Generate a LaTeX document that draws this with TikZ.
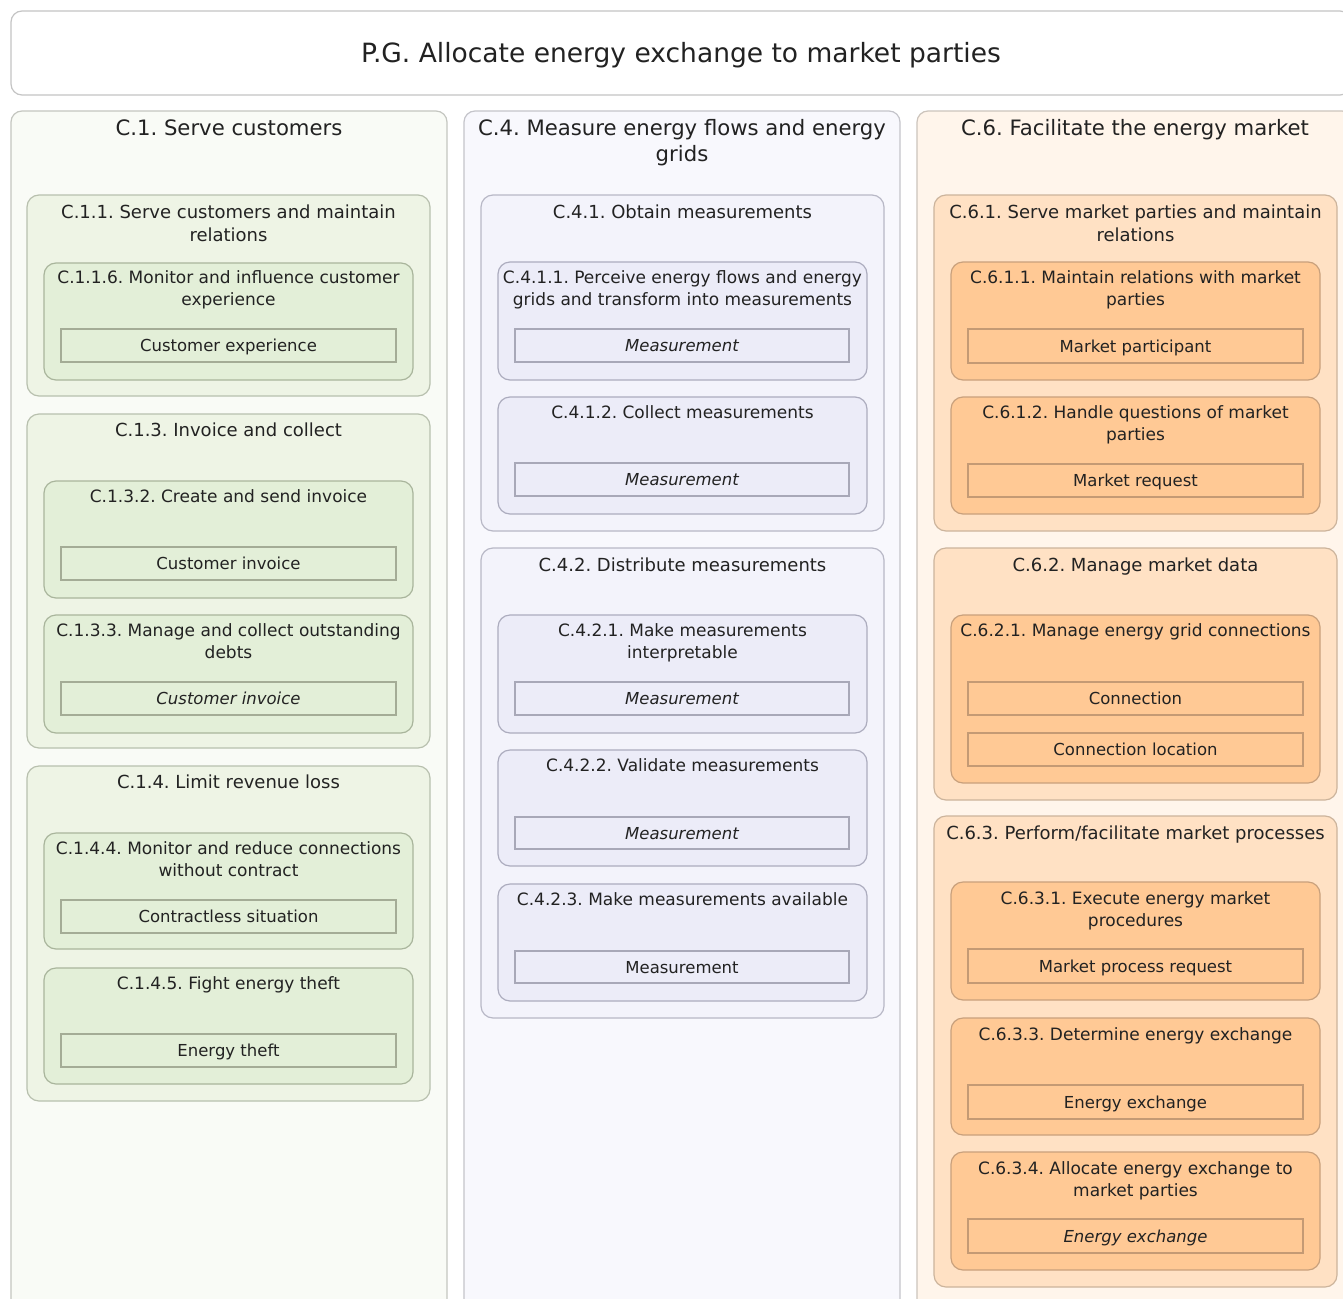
\documentclass[tikz,border=0pt]{standalone}
\usepackage{fontspec}
\setmainfont{DejaVu Sans}
\frenchspacing
\definecolor{txt}{HTML}{222222}
\definecolor{mainborder}{HTML}{C4C4C4}
\definecolor{gA}{HTML}{F9FBF6}\definecolor{gB}{HTML}{EEF4E5}\definecolor{gC}{HTML}{E3EFD8}
\definecolor{gAb}{HTML}{C4C6C0}\definecolor{gBb}{HTML}{B8C0AE}\definecolor{gCb}{HTML}{A9B59C}\definecolor{gRb}{HTML}{A4AC96}
\definecolor{pA}{HTML}{F8F8FD}\definecolor{pB}{HTML}{F3F3FB}\definecolor{pC}{HTML}{ECECF8}
\definecolor{pAb}{HTML}{C4C4CA}\definecolor{pBb}{HTML}{B8B8C6}\definecolor{pCb}{HTML}{ACACBE}\definecolor{pRb}{HTML}{A8A8B8}
\definecolor{oA}{HTML}{FFF5EB}\definecolor{oB}{HTML}{FFE1C4}\definecolor{oC}{HTML}{FFC995}
\definecolor{oAb}{HTML}{CCC4BC}\definecolor{oBb}{HTML}{CCB49C}\definecolor{oCb}{HTML}{C8A07C}\definecolor{oRb}{HTML}{C49A74}
\tikzset{
  every node/.style={inner sep=0pt, outer sep=0pt, text=txt},
  mainbox/.style={draw=mainborder, fill=white, rounded corners=11pt, line width=1.2pt},
  colbox/.style={rounded corners=11pt, line width=1.2pt},
  lvbox/.style={rounded corners=12pt, line width=1.2pt},
  itembox/.style={line width=1.2pt, font=\fontsize{16.5}{22}\selectfont, text height=14pt, text depth=1.5pt},
  tmain/.style={font=\fontsize{26.5}{32}\selectfont},
  tcol/.style={font=\fontsize{21.2}{26}\selectfont},
  tlv/.style={font=\fontsize{18}{23}\selectfont},
  tsub/.style={font=\fontsize{17}{22}\selectfont},
  gcol/.style={colbox, draw=gAb, fill=gA}, glv/.style={lvbox, draw=gBb, fill=gB}, gsub/.style={lvbox, draw=gCb, fill=gC}, gitem/.style={itembox, draw=gRb, fill=gC},
  pcol/.style={colbox, draw=pAb, fill=pA}, plv/.style={lvbox, draw=pBb, fill=pB}, psub/.style={lvbox, draw=pCb, fill=pC}, pitem/.style={itembox, draw=pRb, fill=pC},
  ocol/.style={colbox, draw=oAb, fill=oA}, olv/.style={lvbox, draw=oBb, fill=oB}, osub/.style={lvbox, draw=oCb, fill=oC}, oitem/.style={itembox, draw=oRb, fill=oC},
}
\newcommand\mkbox[6]{\node[#6, minimum width={#4-#2}, minimum height={#5-#3}] (#1) at ({(#2+#4)/2},{(#3+#5)/2}) {};}
\newcommand\mkrect[7]{\node[#6, minimum width={#4-#2}, minimum height={#5-#3}] (#1) at ({(#2+#4)/2},{(#3+#5)/2}) {#7};}
\newcommand\mktitle[5]{\node[#4, anchor=north, align=center] (#1) at (#2,#3) {#5};}
\begin{document}
\begin{tikzpicture}[x=1pt,y=-1pt]
\useasboundingbox (0,0) rectangle (1343,1298);
\clip (0,0) rectangle (1343,1298);
\fill[white] (0,0) rectangle (1343,1298);
% main
\mkbox{pg}{11}{11}{1351}{95}{mainbox}
\mktitle{pgt}{681}{42.4}{tmain}{P.G. Allocate energy exchange to market parties}
% ---------- C.1
\mkbox{c1}{11}{111}{447}{1330}{gcol}
\mktitle{c1t}{229}{119.5}{tcol}{C.1. Serve customers}
\mkbox{c11}{27}{195}{430}{396}{glv}
\mktitle{c11t}{228.5}{204.8}{tlv}{C.1.1. Serve customers and maintain\\relations}
\mkbox{c116}{44}{263}{413}{380}{gsub}
\mktitle{c116t}{228.5}{270.2}{tsub}{C.1.1.6. Monitor and influence customer\\experience}
\mkrect{c116r}{61}{329}{396}{362}{gitem}{Customer experience}
\mkbox{c13}{27}{414}{430}{748}{glv}
\mktitle{c13t}{228.5}{422.8}{tlv}{C.1.3. Invoice and collect}
\mkbox{c132}{44}{481}{413}{598}{gsub}
\mktitle{c132t}{228.5}{489.2}{tsub}{C.1.3.2. Create and send invoice}
\mkrect{c132r}{61}{547}{396}{580}{gitem}{Customer invoice}
\mkbox{c133}{44}{615}{413}{733}{gsub}
\mktitle{c133t}{228.5}{623.2}{tsub}{C.1.3.3. Manage and collect outstanding\\debts}
\mkrect{c133r}{61}{682}{396}{715}{gitem}{\itshape Customer invoice}
\mkbox{c14}{27}{766}{430}{1101}{glv}
\mktitle{c14t}{228.5}{774.8}{tlv}{C.1.4. Limit revenue loss}
\mkbox{c144}{44}{833}{413}{949}{gsub}
\mktitle{c144t}{228.5}{841.2}{tsub}{C.1.4.4. Monitor and reduce connections\\without contract}
\mkrect{c144r}{61}{900}{396}{933}{gitem}{Contractless situation}
\mkbox{c145}{44}{968}{413}{1084}{gsub}
\mktitle{c145t}{228.5}{976.2}{tsub}{C.1.4.5. Fight energy theft}
\mkrect{c145r}{61}{1034}{396}{1067}{gitem}{Energy theft}
% ---------- C.4
\mkbox{c4}{464}{111}{900}{1330}{pcol}
\mktitle{c4t}{682}{119.5}{tcol}{C.4. Measure energy flows and energy\\grids}
\mkbox{c41}{481}{195}{884}{531}{plv}
\mktitle{c41t}{682.5}{204.8}{tlv}{C.4.1. Obtain measurements}
\mkbox{c411}{498}{262}{867}{380}{psub}
\mktitle{c411t}{682.5}{270.2}{tsub}{C.4.1.1. Perceive energy flows and energy\\grids and transform into measurements}
\mkrect{c411r}{515}{329}{849}{362}{pitem}{\itshape Measurement}
\mkbox{c412}{498}{397}{867}{514}{psub}
\mktitle{c412t}{682.5}{405.2}{tsub}{C.4.1.2. Collect measurements}
\mkrect{c412r}{515}{463}{849}{496}{pitem}{\itshape Measurement}
\mkbox{c42}{481}{548}{884}{1018}{plv}
\mktitle{c42t}{682.5}{557.8}{tlv}{C.4.2. Distribute measurements}
\mkbox{c421}{498}{615}{867}{733}{psub}
\mktitle{c421t}{682.5}{623.2}{tsub}{C.4.2.1. Make measurements\\interpretable}
\mkrect{c421r}{515}{682}{849}{715}{pitem}{\itshape Measurement}
\mkbox{c422}{498}{750}{867}{866}{psub}
\mktitle{c422t}{682.5}{758.2}{tsub}{C.4.2.2. Validate measurements}
\mkrect{c422r}{515}{817}{849}{849}{pitem}{\itshape Measurement}
\mkbox{c423}{498}{884}{867}{1001}{psub}
\mktitle{c423t}{682.5}{892.2}{tsub}{C.4.2.3. Make measurements available}
\mkrect{c423r}{515}{951}{849}{983}{pitem}{Measurement}
% ---------- C.6
\mkbox{c6}{917}{111}{1353}{1330}{ocol}
\mktitle{c6t}{1135}{119.5}{tcol}{C.6. Facilitate the energy market}
\mkbox{c61}{934}{195}{1337}{531}{olv}
\mktitle{c61t}{1135.5}{204.8}{tlv}{C.6.1. Serve market parties and maintain\\relations}
\mkbox{c611}{951}{262}{1320}{380}{osub}
\mktitle{c611t}{1135.5}{270.2}{tsub}{C.6.1.1. Maintain relations with market\\parties}
\mkrect{c611r}{968}{329}{1303}{363}{oitem}{Market participant}
\mkbox{c612}{951}{397}{1320}{514}{osub}
\mktitle{c612t}{1135.5}{405.2}{tsub}{C.6.1.2. Handle questions of market\\parties}
\mkrect{c612r}{968}{464}{1303}{497}{oitem}{Market request}
\mkbox{c62}{934}{548}{1337}{800}{olv}
\mktitle{c62t}{1135.5}{557.8}{tlv}{C.6.2. Manage market data}
\mkbox{c621}{951}{615}{1320}{783}{osub}
\mktitle{c621t}{1135.5}{623.2}{tsub}{C.6.2.1. Manage energy grid connections}
\mkrect{c621r}{968}{682}{1303}{715}{oitem}{Connection}
\mkrect{c621s}{968}{733}{1303}{766}{oitem}{Connection location}
\mkbox{c63}{934}{816}{1337}{1287}{olv}
\mktitle{c63t}{1135.5}{825.8}{tlv}{C.6.3. Perform/facilitate market processes}
\mkbox{c631}{951}{882}{1320}{1000}{osub}
\mktitle{c631t}{1135.5}{891.2}{tsub}{C.6.3.1. Execute energy market\\procedures}
\mkrect{c631r}{968}{949}{1303}{983}{oitem}{Market process request}
\mkbox{c633}{951}{1018}{1320}{1135}{osub}
\mktitle{c633t}{1135.5}{1027.2}{tsub}{C.6.3.3. Determine energy exchange}
\mkrect{c633r}{968}{1085}{1303}{1119}{oitem}{Energy exchange}
\mkbox{c634}{951}{1152}{1320}{1270}{osub}
\mktitle{c634t}{1135.5}{1161.2}{tsub}{C.6.3.4. Allocate energy exchange to\\market parties}
\mkrect{c634r}{968}{1219}{1303}{1253}{oitem}{\itshape Energy exchange}
\end{tikzpicture}
\end{document}
